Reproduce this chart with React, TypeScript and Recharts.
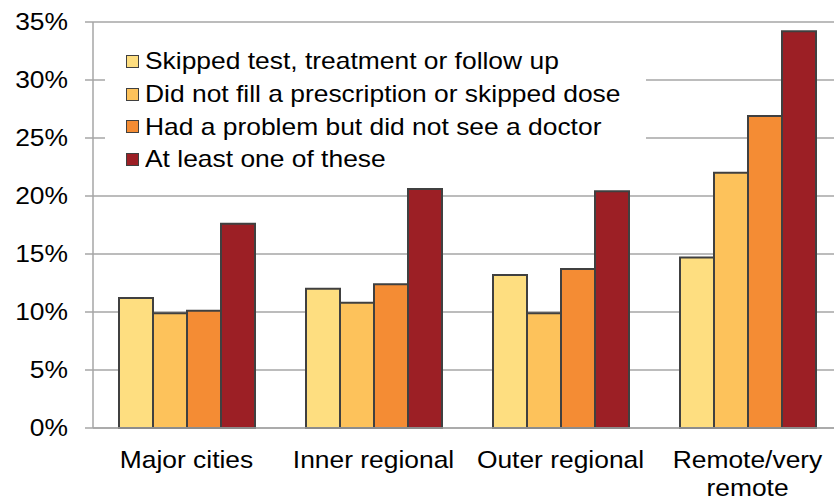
import React from 'react';
import { BarChart, Bar, XAxis, YAxis, CartesianGrid, Legend } from 'recharts';

const categories = ['Major cities', 'Inner regional', 'Outer regional', 'Remote/very remote'];
const skippedTest = [11.2, 12.0, 13.2, 14.7];
const noPrescription = [9.9, 10.8, 9.9, 22.0];
const noDoctor = [10.1, 12.4, 13.7, 26.9];
const atLeastOne = [17.6, 20.6, 20.4, 34.2];
const yTicks = [0, 5, 10, 15, 20, 25, 30, 35];

const series = [
  { key: 'skipped', name: 'Skipped test, treatment or follow up', color: '#FEDE80' },
  { key: 'prescription', name: 'Did not fill a prescription or skipped dose', color: '#FDC25B' },
  { key: 'doctor', name: 'Had a problem but did not see a doctor', color: '#F48C34' },
  { key: 'any', name: 'At least one of these', color: '#9C1F25' },
];

const data = categories.map((c, i) => ({
  category: c,
  skipped: skippedTest[i],
  prescription: noPrescription[i],
  doctor: noDoctor[i],
  any: atLeastOne[i],
}));

const FONT = '"Liberation Sans", Arial, sans-serif';

// wrap long category names onto two lines
const wrap = (s: string, max = 15) => {
  const lines: string[] = [];
  let cur = '';
  s.split(' ').forEach((w) => {
    if (cur && (cur + ' ' + w).length > max) {
      lines.push(cur);
      cur = w;
    } else {
      cur = cur ? cur + ' ' + w : w;
    }
  });
  if (cur) lines.push(cur);
  return lines;
};

const XTick = (props: any) => {
  const { x, y, payload } = props;
  const lines = wrap(payload.value);
  return (
    <g transform={`translate(${x},${y})`}>
      <text transform="scale(1.1,1)" textAnchor="middle" fill="#000" fontSize={24} fontFamily={FONT}>
        {lines.map((l, i) => (
          <tspan key={i} x={0} y={32 + i * 28}>{l}</tspan>
        ))}
      </text>
    </g>
  );
};

const YTick = (props: any) => {
  const { x, y, payload } = props;
  return (
    <g transform={`translate(${x},${y})`}>
      <text transform="scale(1.1,1)" textAnchor="end" dy={8} fill="#000" fontSize={24} fontFamily={FONT}>
        {`${payload.value}%`}
      </text>
    </g>
  );
};

const LegendBox = () => (
  <div style={{ background: '#fff', width: 541, height: 148, paddingTop: 9, boxSizing: 'border-box' }}>
    {series.map((s) => (
      <div key={s.key} style={{ height: 32.7, display: 'flex', alignItems: 'center', position: 'relative' }}>
        <div
          style={{
            position: 'absolute',
            left: 21,
            width: 11,
            height: 11,
            background: s.color,
            border: '1.5px solid #404040',
          }}
        />
        <span
          style={{
            position: 'absolute',
            left: 40,
            fontFamily: FONT,
            fontSize: 24,
            color: '#000',
            whiteSpace: 'nowrap',
            transform: 'scaleX(1.1)',
            transformOrigin: 'left center',
            lineHeight: '32px',
          }}
        >
          {s.name}
        </span>
      </div>
    ))}
  </div>
);

export default function App() {
  return (
    <div style={{ position: 'absolute', left: 0, top: 0, width: 834, height: 500, overflow: 'hidden', background: '#fff' }}>
      <BarChart
        width={850}
        height={500}
        data={data}
        margin={{ top: 22, right: 9, bottom: 12, left: 0 }}
        barCategoryGap={26}
        barGap={0}
      >
        <CartesianGrid vertical={false} stroke="#a6a6a6" strokeWidth={1.5} />
        <XAxis
          dataKey="category"
          tick={<XTick />}
          tickLine={false}
          axisLine={{ stroke: '#a6a6a6', strokeWidth: 1.5 }}
          height={60}
          interval={0}
        />
        <YAxis
          domain={[0, 35]}
          ticks={yTicks}
          width={93}
          tick={<YTick />}
          tickSize={8}
          tickMargin={17}
          tickLine={{ stroke: '#a6a6a6', strokeWidth: 1.5 }}
          axisLine={{ stroke: '#a6a6a6', strokeWidth: 1.5 }}
        />
        <Legend
          layout="horizontal"
          align="center"
          verticalAlign="middle"
          content={<LegendBox />}
          wrapperStyle={{ position: 'absolute', left: 105, top: 36, width: 541, height: 148 }}
        />
        {series.map((s) => (
          <Bar
            key={s.key}
            dataKey={s.key}
            name={s.name}
            fill={s.color}
            stroke="#404040"
            strokeWidth={2}
            isAnimationActive={false}
          />
        ))}
      </BarChart>
    </div>
  );
}
